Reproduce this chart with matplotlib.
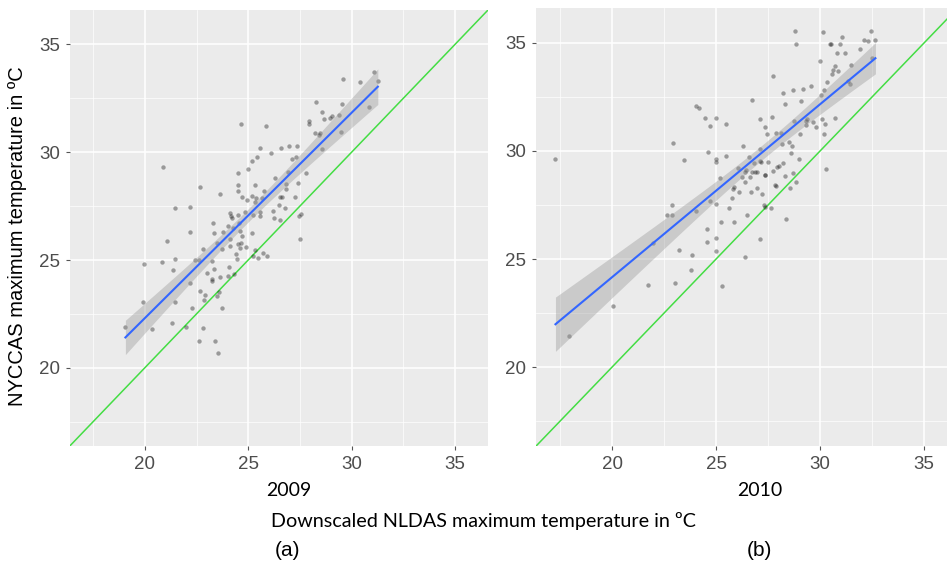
import numpy as np
import matplotlib
matplotlib.use("Agg")
import matplotlib.pyplot as plt

# 2009: downscaled NLDAS (x) vs NYCCAS (y), max temperature
x09 = [19.06, 19.98, 19.89, 20.35, 20.87, 21.45, 21.05, 20.81, 21.45, 21.34,
       21.45, 21.31, 21.98, 22.19, 22.18, 22.65, 22.18, 22.27, 22.61, 22.81,
       22.44, 22.61, 22.79, 22.65, 22.90, 22.84, 23.03, 23.26, 23.29, 23.35,
       23.48, 23.34, 23.26, 23.26, 23.47, 23.61, 23.37, 23.56, 23.71, 23.65,
       23.77, 23.74, 23.63, 24.02, 24.10, 24.13, 24.18, 24.23, 24.26, 24.13,
       24.06, 24.03, 24.31, 24.42, 24.44, 24.50, 24.60, 24.63, 24.71, 24.61,
       24.55, 24.52, 24.68, 24.52, 24.53, 24.53, 24.66, 24.84, 24.87, 24.95,
       25.00, 25.16, 25.16, 25.19, 25.21, 25.24, 25.31, 25.31, 25.31, 25.42,
       25.39, 25.48, 25.55, 25.56, 25.56, 25.65, 25.71, 25.76, 25.85, 25.90,
       26.11, 26.18, 26.24, 26.29, 26.48, 26.52, 26.58, 26.55, 26.65, 26.79,
       26.82, 26.85, 26.94, 26.95, 27.11, 27.27, 27.32, 27.37, 27.39, 27.48,
       27.55, 27.52, 27.79, 27.94, 27.94, 28.21, 28.29, 28.42, 28.48, 28.55,
       28.55, 28.65, 28.97, 29.06, 29.39, 29.47, 29.53, 29.60, 30.40, 30.85,
       31.10, 31.27]
y09 = [21.90, 24.80, 23.06, 21.79, 29.31, 27.42, 25.89, 24.92, 25.06, 24.55,
       23.05, 22.07, 21.90, 27.45, 26.31, 28.40, 23.94, 22.78, 21.22, 25.49,
       25.01, 25.01, 21.83, 23.57, 23.39, 23.14, 24.38, 24.95, 26.70, 26.25,
       25.80, 24.56, 24.11, 24.04, 23.33, 23.51, 21.22, 20.67, 22.77, 28.06,
       26.30, 25.53, 24.21, 26.60, 25.99, 27.18, 27.04, 26.93, 26.48, 25.64,
       24.69, 24.25, 24.35, 25.29, 25.06, 25.74, 25.54, 25.80, 26.11, 26.36,
       26.73, 27.07, 27.94, 28.22, 28.47, 29.03, 31.32, 27.21, 25.62, 27.80,
       29.23, 27.99, 26.25, 29.60, 27.07, 25.18, 25.46, 28.46, 27.69, 29.79,
       27.90, 25.10, 30.19, 27.25, 27.05, 27.86, 25.32, 28.20, 31.21, 25.19,
       29.97, 27.28, 26.97, 28.80, 27.56, 27.94, 30.19, 26.87, 27.94, 27.39,
       28.52, 28.29, 29.09, 30.28, 29.67, 27.94, 29.78, 30.28, 28.56, 27.02,
       27.14, 25.96, 29.02, 31.44, 31.32, 30.87, 32.32, 30.78, 30.87, 31.85,
       30.13, 31.55, 31.58, 31.68, 31.71, 30.92, 32.25, 33.41, 33.28, 32.12,
       33.73, 33.30]

# 2010
x10 = [17.28, 17.92, 20.03, 21.71, 21.99, 22.63, 22.88, 22.87, 22.95, 23.03,
       23.22, 23.45, 23.80, 23.83, 24.02, 24.20, 24.05, 24.47, 24.54, 24.55,
       24.62, 24.73, 24.70, 25.00, 25.00, 25.02, 25.02, 25.02, 25.00, 25.21,
       25.24, 25.27, 25.48, 25.50, 25.63, 25.75, 25.82, 25.85, 25.85, 26.07,
       26.11, 26.27, 26.31, 26.39, 26.39, 26.43, 26.41, 26.51, 26.60, 26.65,
       26.68, 26.73, 26.75, 26.84, 26.89, 26.97, 26.99, 27.10, 27.12, 27.13,
       27.13, 27.18, 27.20, 27.29, 27.36, 27.37, 27.37, 27.37, 27.45, 27.52,
       27.64, 27.68, 27.72, 27.72, 27.85, 27.87, 27.90, 27.93, 28.01, 28.11,
       28.19, 28.22, 28.24, 28.30, 28.32, 28.35, 28.49, 28.57, 28.62, 28.67,
       28.69, 28.70, 28.73, 28.81, 28.83, 28.86, 28.97, 29.04, 29.09, 29.18,
       29.31, 29.34, 29.37, 29.54, 29.68, 29.81, 30.00, 30.13, 30.06, 30.11,
       30.18, 30.21, 30.24, 30.27, 30.34, 30.46, 30.53, 30.59, 30.63, 30.71,
       30.73, 30.80, 30.88, 30.95, 31.06, 31.20, 31.33, 31.43, 31.47, 31.91,
       32.13, 32.28, 32.45, 32.50, 32.66]
y10 = [29.64, 21.43, 22.84, 23.80, 25.72, 27.04, 27.52, 27.02, 30.37, 23.87,
       25.44, 29.56, 24.47, 25.18, 32.10, 31.99, 27.24, 31.51, 26.38, 25.78,
       29.97, 31.14, 27.70, 31.51, 29.62, 29.47, 27.53, 25.98, 25.38, 28.76,
       26.72, 23.77, 31.27, 29.76, 27.35, 27.82, 28.24, 28.33, 26.72, 29.19,
       28.12, 28.81, 30.24, 28.58, 29.02, 29.10, 25.09, 27.04, 29.73, 28.79,
       28.10, 32.37, 29.01, 29.45, 29.01, 29.01, 28.28, 25.92, 31.48, 30.11,
       29.54, 29.48, 28.02, 27.52, 27.42, 28.91, 28.87, 31.11, 30.79, 29.51,
       27.35, 31.56, 33.49, 29.05, 28.44, 28.39, 30.85, 29.28, 29.31, 30.82,
       30.34, 32.66, 29.42, 28.84, 32.19, 26.84, 30.42, 28.28, 29.90, 30.24,
       28.96, 32.83, 31.37, 35.54, 34.97, 28.55, 29.64, 30.79, 32.31, 32.85,
       31.22, 31.40, 31.47, 33.02, 31.33, 31.11, 34.14, 35.51, 32.60, 31.47,
       32.82, 30.79, 31.27, 29.16, 33.17, 34.94, 34.94, 33.56, 33.76, 31.53,
       33.94, 34.54, 33.71, 34.97, 35.28, 34.55, 33.25, 33.09, 33.99, 34.74,
       35.14, 35.11, 35.57, 34.31, 35.15]

ticks = [20, 25, 30, 35]
minor = [17.5, 22.5, 27.5, 32.5]

W, H = 947, 565
fig = plt.figure(figsize=(W / 100, H / 100), dpi=100)

tick_font = ['Liberation Sans Narrow', 'Liberation Sans']


def lm_panel(ax, x, y, xlim, ylim):
    x = np.asarray(x)
    y = np.asarray(y)
    ax.set_facecolor('#EBEBEB')
    for s in ax.spines.values():
        s.set_visible(False)
    ax.set_xlim(*xlim)
    ax.set_ylim(*ylim)
    ax.set_xticks(ticks)
    ax.set_yticks(ticks)
    ax.set_xticks(minor, minor=True)
    ax.set_yticks(minor, minor=True)
    ax.grid(which='major', color='white', lw=1.1)
    ax.grid(which='minor', color='white', lw=0.5)
    ax.set_axisbelow(True)
    ax.tick_params(which='major', length=3, width=0.8, color='#555555',
                   labelcolor='#4D4D4D', labelsize=13.5, pad=4)
    ax.tick_params(which='minor', length=0)
    for lab in ax.get_xticklabels() + ax.get_yticklabels():
        lab.set_family(tick_font)

    # identity line
    ax.axline((20, 20), (30, 30), color='#44DD44', lw=1.1, zorder=2)

    ax.scatter(x, y, s=10, color='black', alpha=0.35, lw=0, zorder=3)

    # linear fit with 95% confidence band
    b, a = np.polyfit(x, y, 1)
    n = len(x)
    resid = y - (a + b * x)
    s = np.sqrt(np.sum(resid ** 2) / (n - 2))
    xx = np.linspace(x.min(), x.max(), 100)
    se = s * np.sqrt(1 / n + (xx - x.mean()) ** 2 / np.sum((x - x.mean()) ** 2))
    yy = a + b * xx
    ax.fill_between(xx, yy - 1.98 * se, yy + 1.98 * se, color='#999999',
                    alpha=0.4, lw=0, zorder=4)
    ax.plot(xx, yy, color='#3366FF', lw=1.5, zorder=5)


ax1 = fig.add_axes([70 / W, 1 - 446 / H, 418 / W, 436 / H])
lm_panel(ax1, x09, y09, (16.38, 36.6), (16.37, 36.6))

ax2 = fig.add_axes([535.7 / W, 1 - 446 / H, (W - 535.7) / W, 437.7 / H])
lm_panel(ax2, x10, y10, (16.33, 36.1), (16.35, 36.6))

fig.text(18 / W, 1 - 236 / H, 'NYCCAS maximum temperature in ºC', rotation=90,
         ha='center', va='center', fontsize=14.5, family='Liberation Sans')
fig.text(289 / W, 1 - 490 / H, '2009', ha='center', va='center', fontsize=14,
         family='Lato')
fig.text(760 / W, 1 - 490 / H, '2010', ha='center', va='center', fontsize=14,
         family='Lato')
fig.text(483 / W, 1 - 521 / H, 'Downscaled NLDAS maximum temperature in ºC',
         ha='center', va='center', fontsize=14.2, family='Lato')
fig.text(287 / W, 1 - 550 / H, '(a)', ha='center', va='center', fontsize=15,
         family='Liberation Sans')
fig.text(759 / W, 1 - 550 / H, '(b)', ha='center', va='center', fontsize=15,
         family='Liberation Sans')

fig.savefig('out.png', dpi=100)
